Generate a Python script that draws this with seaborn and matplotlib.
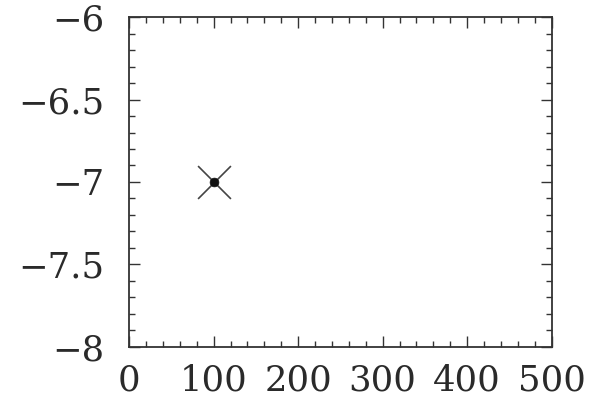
import matplotlib
matplotlib.use('Agg')
import matplotlib.pyplot as plt
import seaborn as sns
import pandas as pd
from matplotlib.ticker import MultipleLocator

# ========== dados ==========
x_vals = [100]
y_vals = [-7.0]
x_ticks = [0, 100, 200, 300, 400, 500]
y_ticks = [-8, -7.5, -7, -6.5, -6]

df = pd.DataFrame({'x': x_vals, 'y': y_vals})

# ========== estilo ==========
sns.set_theme(style='white')
plt.rcParams['font.family'] = ['DejaVu Serif']
plt.rcParams['axes.unicode_minus'] = True

fig, ax = plt.subplots(figsize=(5.9, 4.08), dpi=100)
fig.subplots_adjust(left=0.219, right=0.935, bottom=0.15, top=0.958)

# ========== pontos ==========
sns.scatterplot(data=df, x='x', y='y', marker='x', s=560, color='#444444',
                linewidth=1.2, ax=ax, legend=False)
sns.scatterplot(data=df, x='x', y='y', marker='o', s=40, color='#111111',
                edgecolor='#111111', ax=ax, legend=False)

# ========== eixos ==========
ax.set_xlim(0, 500)
ax.set_ylim(-8, -6)
ax.set_xticks(x_ticks)
ax.set_yticks(y_ticks)
ax.set_yticklabels(['\u22128', '\u22127.5', '\u22127', '\u22126.5', '\u22126'])
ax.xaxis.set_minor_locator(MultipleLocator(20))
ax.yaxis.set_minor_locator(MultipleLocator(0.1))
ax.tick_params(which='both', direction='in', top=True, right=True,
               bottom=True, left=True,
               color='#333333', width=1.0, labelsize=25.5, labelcolor='#2a2a2a')
ax.tick_params(which='major', length=8)
ax.tick_params(axis='y', which='major', pad=18)
ax.tick_params(axis='x', which='major', pad=12)
ax.tick_params(which='minor', length=4)
for sp in ax.spines.values():
    sp.set_color('#333333')
    sp.set_linewidth(1.3)
ax.set_xlabel('')
ax.set_ylabel('')

plt.savefig('out.png', dpi=100)
